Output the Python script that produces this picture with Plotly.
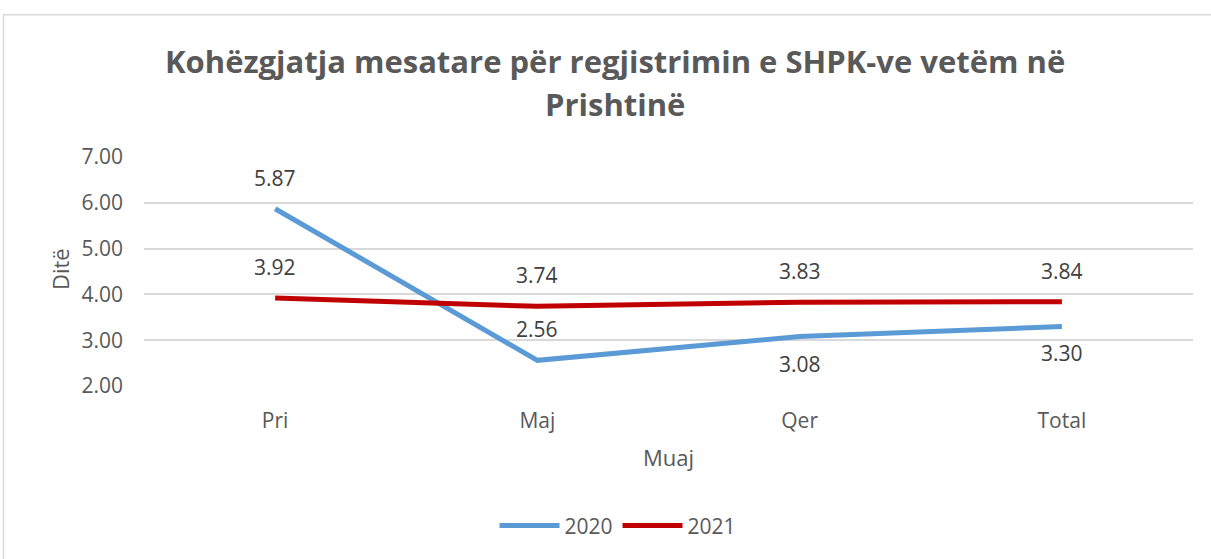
import plotly.graph_objects as go

categories = ["Pri", "Maj", "Qer", "Total"]
values_2020 = [5.87, 2.56, 3.08, 3.30]
values_2021 = [3.92, 3.74, 3.83, 3.84]
label_pos_2020 = ["above", "above", "below", "below"]
label_pos_2021 = ["above", "above", "above", "above"]

FONT = "Open Sans"
GREY = "#595959"
LABEL = "#404040"

W, H = 1211, 559
# target pixel positions of the plot area
PL, PR, PT, PB = 144, 1193, 157, 388
L, R, T, B = PL, W - PR, PT, H - PB
PW, PH = PR - PL, PB - PT

def px_x(p):
    return (p - PL) / PW

def px_y(p):
    return (PB - p) / PH

fig = go.Figure()
fig.add_trace(go.Scatter(x=categories, y=values_2020, mode="lines", name="2020",
                         line=dict(color="#5B9BD5", width=5)))
fig.add_trace(go.Scatter(x=categories, y=values_2021, mode="lines", name="2021",
                         line=dict(color="#C00000", width=5)))

annotations = []
for vals, pos in ((values_2020, label_pos_2020), (values_2021, label_pos_2021)):
    for c, v, p in zip(categories, vals, pos):
        annotations.append(dict(x=c, y=v, xref="x", yref="y", text=f"{v:.2f}",
                                showarrow=False, yshift=31 if p == "above" else -27,
                                xanchor="center", yanchor="middle",
                                font=dict(family=FONT, size=21, color=LABEL)))

annotations += [
    dict(x=px_x(615), y=px_y(60), xref="paper", yref="paper",
         text="<b>Kohëzgjatja mesatare për regjistrimin e SHPK-ve vetëm në</b>",
         showarrow=False, xanchor="center", yanchor="middle",
         font=dict(family=FONT, size=31, color=GREY)),
    dict(x=px_x(615), y=px_y(104), xref="paper", yref="paper",
         text="<b>Prishtinë</b>",
         showarrow=False, xanchor="center", yanchor="middle",
         font=dict(family=FONT, size=31, color=GREY)),
    dict(x=px_x(668), y=px_y(460), xref="paper", yref="paper", text="Muaj",
         showarrow=False, xanchor="center", yanchor="middle",
         font=dict(family=FONT, size=22, color=GREY)),
    dict(x=px_x(60), y=px_y(270), xref="paper", yref="paper", text="Ditë",
         showarrow=False, xanchor="center", yanchor="middle", textangle=-90,
         font=dict(family=FONT, size=22, color=GREY)),
]

fig.update_layout(
    width=W, height=H,
    margin=dict(l=L, r=R, t=T, b=B),
    paper_bgcolor="white", plot_bgcolor="white",
    showlegend=True,
    legend=dict(orientation="h", x=px_x(618), xanchor="center",
                y=px_y(529), yanchor="middle",
                font=dict(family=FONT, size=21, color=GREY),
                itemwidth=60),
    annotations=annotations,
    shapes=[dict(type="rect", xref="paper", yref="paper",
                 x0=px_x(3.5), x1=px_x(1240), y0=px_y(13.5), y1=px_y(600),
                 line=dict(color="#D9D9D9", width=1.5), fillcolor="rgba(0,0,0,0)",
                 layer="below")],
)
fig.update_xaxes(range=[-0.5, 3.5], showgrid=False, showline=False, ticks="",
                 tickfont=dict(family=FONT, size=21, color=GREY),
                 ticklabelstandoff=20)
fig.update_yaxes(range=[2, 7], dtick=1, tickformat=".2f", showgrid=True,
                 gridcolor="#D9D9D9", gridwidth=1.5, zeroline=False, showline=False,
                 tickfont=dict(family=FONT, size=21, color=GREY),
                 ticklabelstandoff=20)

fig.write_html("out.html",
               config={"displayModeBar": False},
               post_script="document.body.style.margin='0';document.body.style.overflow='hidden';")
